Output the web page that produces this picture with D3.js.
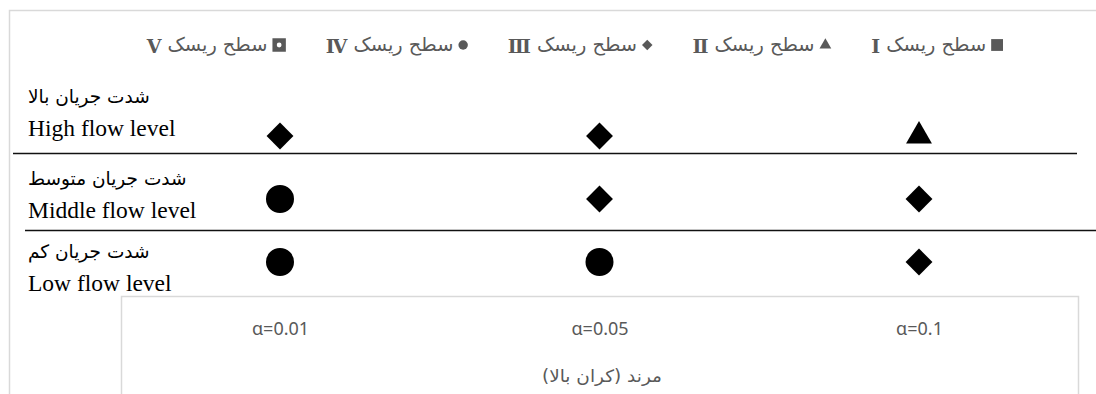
<!DOCTYPE html>
<html>
<head>
<meta charset="utf-8">
<script src="https://cdn.jsdelivr.net/npm/d3@7"></script>
<style>
  body { margin: 0; background: #fff; }
  svg { display: block; }
</style>
</head>
<body>
<svg id="chart"></svg>
<script>
const alphaLevels = ['α=0.01', 'α=0.05', 'α=0.1'];
const flowLevels = ['High flow level', 'Middle flow level', 'Low flow level'];
const flowLevelsFa = ['شدت جریان بالا', 'شدت جریان متوسط', 'شدت جریان کم'];
const riskNumerals = ['Ⅰ', 'Ⅱ', 'Ⅲ', 'Ⅳ', 'Ⅴ'];
const riskLabel = 'سطح ریسک';
const axisTitle = 'مرند (کران بالا)';
// risk level (1 = I ... 5 = V) for each alpha, one array per flow level
const riskHigh = [3, 3, 2];
const riskMiddle = [4, 3, 3];
const riskLow = [4, 4, 3];

const width = 1096;
const height = 394;
const grey = '#595959';
const frame = '#d9d9d9';

const cells = [];
[riskHigh, riskMiddle, riskLow].forEach((row, r) => {
  row.forEach((level, c) => cells.push({ flow: flowLevels[r], alpha: alphaLevels[c], level }));
});

// square turned 45 degrees
const diamondSquare = {
  draw(ctx, size) {
    const r = Math.sqrt(size / 2);
    ctx.moveTo(0, -r);
    ctx.lineTo(r, 0);
    ctx.lineTo(0, r);
    ctx.lineTo(-r, 0);
    ctx.closePath();
  }
};
// square with a round hole
const dottedSquare = {
  draw(ctx, size) {
    const s = Math.sqrt(size) / 2;
    const h = s * 0.36;
    ctx.moveTo(-s, -s);
    ctx.lineTo(s, -s);
    ctx.lineTo(s, s);
    ctx.lineTo(-s, s);
    ctx.closePath();
    ctx.moveTo(h, 0);
    ctx.arc(0, 0, h, 0, 2 * Math.PI);
  }
};
const shapes = [d3.symbolSquare, d3.symbolTriangle, diamondSquare, d3.symbolCircle, dottedSquare];
const legendSizes = [140, 60, 55, 70, 180];
const markSizes = [400, 290, 361, 616, 400];

const svg = d3.select('#chart')
  .attr('width', width)
  .attr('height', height);

// outer frame
svg.append('rect')
  .attr('x', 9.5)
  .attr('y', 10.5)
  .attr('width', width)
  .attr('height', height)
  .attr('fill', 'none')
  .attr('stroke', frame)
  .attr('stroke-width', 1.5);

// legend, laid out from right to left
const legend = svg.append('g').attr('class', 'legend');
const legendY = 45;
let cursor = 1003;
riskNumerals.forEach((num, i) => {
  const mark = legend.append('path')
    .attr('d', d3.symbol().type(shapes[i]).size(legendSizes[i])())
    .attr('fill', grey)
    .attr('fill-rule', 'evenodd');
  const bb = mark.node().getBBox();
  mark.attr('transform', `translate(${cursor - bb.x - bb.width}, ${legendY})`);
  cursor -= bb.width + 5;

  legend.append('text')
    .attr('x', cursor)
    .attr('y', legendY + 6)
    .attr('text-anchor', 'end')
    .attr('textLength', 100)
    .attr('lengthAdjust', 'spacingAndGlyphs')
    .style('font-family', '"DejaVu Sans", sans-serif')
    .style('font-size', '19px')
    .attr('fill', grey)
    .text(riskLabel);
  cursor -= 100 + 6;

  const numeral = legend.append('text')
    .attr('x', cursor)
    .attr('y', legendY + 8)
    .attr('text-anchor', 'end')
    .style('font-family', '"DejaVu Serif", serif')
    .style('font-size', '19px')
    .style('font-weight', 'bold')
    .attr('fill', grey)
    .text(num);
  cursor -= numeral.node().getComputedTextLength() + 40;
});

const x = d3.scalePoint()
  .domain(alphaLevels)
  .range([280, 919]);

const y = d3.scalePoint()
  .domain(flowLevels)
  .range([136, 262]);

const labelY = d3.scaleOrdinal()
  .domain(flowLevels)
  .range([136, 218, 291]);

// row separators
svg.append('line')
  .attr('x1', 13).attr('x2', 1077)
  .attr('y1', 153.5).attr('y2', 153.5)
  .attr('stroke', '#111')
  .attr('stroke-width', 1.4);
svg.append('line')
  .attr('x1', 25).attr('x2', width)
  .attr('y1', 230.5).attr('y2', 230.5)
  .attr('stroke', '#111')
  .attr('stroke-width', 1.4);

// row labels
const rows = svg.append('g').attr('class', 'rows');
rows.selectAll('.fa')
  .data(flowLevels)
  .enter()
  .append('text')
  .attr('class', 'fa')
  .attr('x', 28)
  .attr('y', d => labelY(d) - 33)
  .style('font-family', '"DejaVu Sans", serif')
  .style('font-size', '18.5px')
  .attr('fill', '#000')
  .text((d, i) => flowLevelsFa[i]);

rows.selectAll('.en')
  .data(flowLevels)
  .enter()
  .append('text')
  .attr('class', 'en')
  .attr('x', 28)
  .attr('y', d => labelY(d))
  .style('font-family', '"Liberation Serif", "Times New Roman", serif')
  .style('font-size', '23.5px')
  .attr('fill', '#000')
  .text(d => d);

// markers
svg.selectAll('.mark')
  .data(cells)
  .enter()
  .append('path')
  .attr('class', 'mark')
  .attr('d', d => d3.symbol().type(shapes[d.level - 1]).size(markSizes[d.level - 1])())
  .attr('fill-rule', 'evenodd')
  .attr('transform', d => `translate(${x(d.alpha)}, ${y(d.flow)})`)
  .attr('fill', '#000');

// lower box with the alpha axis
svg.append('rect')
  .attr('x', 121.5)
  .attr('y', 296.5)
  .attr('width', 957)
  .attr('height', 120)
  .attr('fill', 'none')
  .attr('stroke', frame)
  .attr('stroke-width', 1.5);

const xAxis = svg.append('g')
  .attr('transform', 'translate(0, 322)')
  .call(d3.axisBottom(x).tickSize(0).tickPadding(0));
xAxis.select('.domain').remove();
xAxis.selectAll('text')
  .style('font-family', '"Noto Sans", sans-serif')
  .style('font-size', '18px')
  .attr('fill', grey);

svg.append('text')
  .attr('x', 602)
  .attr('y', 382)
  .attr('text-anchor', 'middle')
  .attr('textLength', 120)
  .attr('lengthAdjust', 'spacingAndGlyphs')
  .style('font-family', '"DejaVu Sans", sans-serif')
  .style('font-size', '17px')
  .attr('fill', grey)
  .text(axisTitle);
</script>
</body>
</html>
